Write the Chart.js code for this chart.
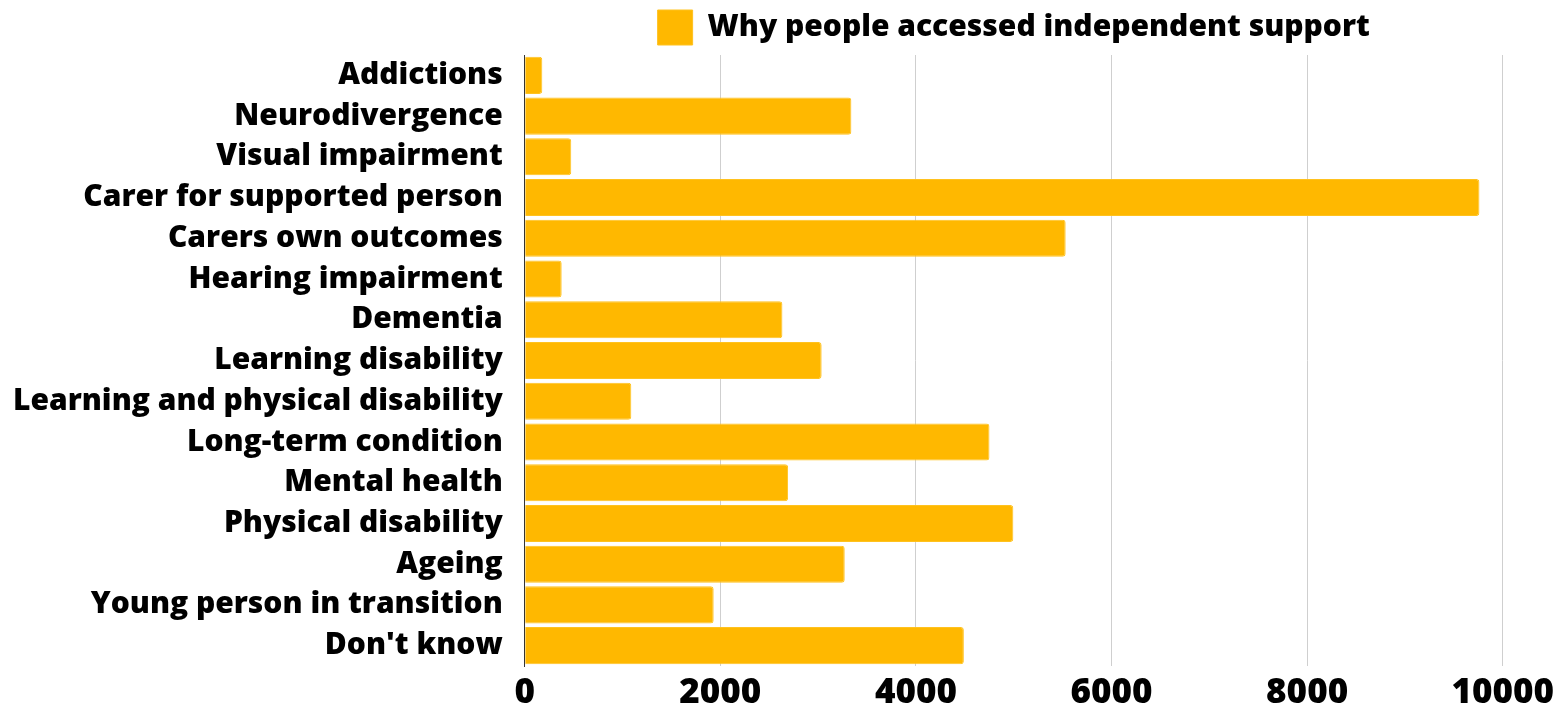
<!DOCTYPE html>
<html>
<head>
<meta charset="utf-8">
<script src="https://cdn.jsdelivr.net/npm/chart.js@4"></script>
<style>
  html, body { margin: 0; padding: 0; background: #ffffff; }
  #holder { width: 1553px; height: 709px; position: relative; }
</style>
</head>
<body>
<div id="holder"><canvas id="supportChart"></canvas></div>
<script>
const categories = [
  "Addictions",
  "Neurodivergence",
  "Visual impairment",
  "Carer for supported person",
  "Carers own outcomes",
  "Hearing impairment",
  "Dementia",
  "Learning disability",
  "Learning and physical disability",
  "Long-term condition",
  "Mental health",
  "Physical disability",
  "Ageing",
  "Young person in transition",
  "Don't know"
];
const supportCounts = [180, 3340, 476, 9762, 5531, 378, 2635, 3036, 1090, 4752, 2693, 4996, 3272, 1932, 4490];
const seriesLabel = "Why people accessed independent support";
const xTicks = [0, 2000, 4000, 6000, 8000, 10000];

document.addEventListener("DOMContentLoaded", () => {
  const fontFamily = "'Open Sans', 'DejaVu Sans', sans-serif";
  const ctx = document.getElementById("supportChart").getContext("2d");
  new Chart(ctx, {
    type: "bar",
    data: {
      labels: categories,
      datasets: [
        {
          label: seriesLabel,
          data: supportCounts,
          backgroundColor: "#FFB800",
          borderColor: "#FFC21F",
          borderWidth: 1,
          borderRadius: 3,
          borderSkipped: "start",
          barPercentage: 0.91,
          categoryPercentage: 1.0,
        },
      ],
    },
    options: {
      indexAxis: "y",
      responsive: true,
      maintainAspectRatio: false,
      animation: false,
      layout: { padding: { left: -9, right: 0, top: 0, bottom: -12 } },
      plugins: {
        tooltip: { enabled: false },
        legend: {
          display: true,
          position: "top",
          fullSize: false,
          labels: {
            color: "#000000",
            boxWidth: 35,
            boxHeight: 35,
            padding: 10,
            font: { family: fontFamily, size: 30, weight: "800" },
          },
        },
      },
      scales: {
        x: {
          min: 0,
          max: 10000,
          afterBuildTicks: (axis) => {
            axis.ticks = xTicks.map((v) => ({ value: v }));
          },
          afterFit: (axis) => {
            // the "10000" label may run closer to the edge, as in the original
            axis.paddingRight = Math.max(0, axis.paddingRight - 11);
          },
          grid: { color: "#cfcfcf", lineWidth: 1, drawTicks: false },
          border: { display: false },
          ticks: {
            color: "#000000",
            padding: 10,
            maxRotation: 0,
            callback: (value) => String(value),
            font: { family: fontFamily, size: 35, weight: "800", lineHeight: 1.0 },
          },
        },
        y: {
          grid: { display: false, drawTicks: false },
          border: { display: true, color: "#333333", width: 1 },
          ticks: {
            color: "#000000",
            padding: 22,
            autoSkip: false,
            font: { family: fontFamily, size: 30, weight: "800" },
          },
        },
      },
    },
  });
});
</script>
</body>
</html>
